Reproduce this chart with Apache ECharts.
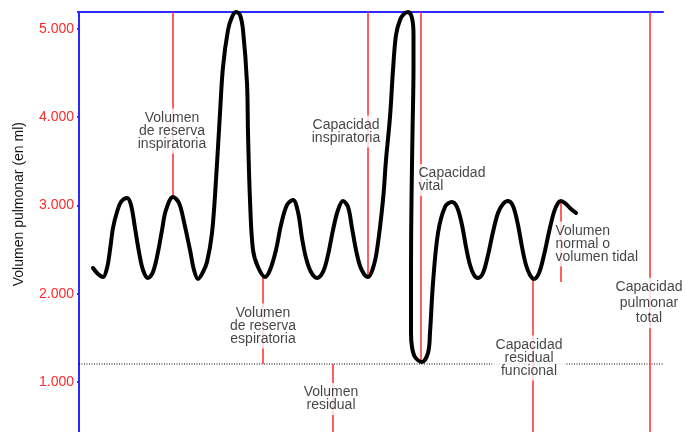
<!DOCTYPE html>
<html><head><meta charset="utf-8">
<script src="https://cdn.jsdelivr.net/npm/echarts@6/dist/echarts.min.js"></script>
<style>html,body{margin:0;padding:0;background:#fff}#c{width:685px;height:432px}</style>
</head><body><div id="c"></div>
<script>
// time (arbitrary units) / lung volume (ml)
const volumeCurve = [
  [14,2291],[19,2223],[24,2189],[28,2291],[31,2495],[34,2744],[38,2925],[42,3039],[48,3084],
  [52,3005],[56,2744],[60,2472],[64,2268],[69,2178],[74,2246],[79,2472],[83,2721],[87,2948],
  [94,3095],[100,3027],[105,2812],[111,2495],[115,2268],[119,2166],[124,2246],[128,2359],
  [133,2687],[137,3288],[141,4046],[144,4567],[149,4986],[153,5134],[157,5190],[161,5156],
  [164,4986],[168,4386],[169,3820],[171,3061],[174,2495],[179,2302],[186,2189],[191,2268],
  [197,2495],[202,2778],[208,3005],[214,3061],[219,2925],[223,2631],[227,2404],[232,2246],
  [238,2178],[244,2246],[249,2438],[254,2721],[259,2948],[264,3050],[269,2982],[273,2744],
  [277,2495],[281,2314],[285,2223],[289,2189],[294,2291],[298,2495],[304,3061],[307,3514],
  [311,4001],[314,4533],[317,4930],[321,5100],[325,5168],[329,5190],[333,5122],[334.5,4930],
  [334.5,4567],[333.5,3820],[332.5,3061],[332,2268],[332,1555],[333,1396],[336,1283],[343,1226],
  [349,1328],[351,1555],[354,2121],[359,2687],[366,2982],[373,3039],[378,2982],[383,2778],
  [387,2529],[391,2325],[395,2212],[399,2178],[404,2234],[409,2438],[414,2699],[419,2914],
  [424,3016],[429,3050],[434,2993],[439,2778],[443,2529],[447,2325],[451,2212],[455,2166],
  [460,2234],[465,2438],[470,2699],[475,2925],[479,3027],[482,3050],[487,3016],[492,2959],[497,2914]
];
const residualLevel = 1204;
const timeRange = [0, 584];
const volumeMax = 5190;
const yTickStep = 1000;
// vertical marker lines: [time, volumeFrom, volumeTo]
const markerLines = [
  [94, 5190, 3095],
  [184, 2189, 1204],
  [289, 5190, 2189],
  [342, 5190, 1226],
  [254, 1204, 0],
  [482, 3050, 2132],
  [454, 2166, 0],
  [571, 5190, 0]
];
// annotation texts and anchors [time, volume]
const noteTexts = [
  'Volumen\nde reserva\ninspiratoria',
  'Volumen\nde reserva\nespiratoria',
  'Capacidad\ninspiratoria',
  'Capacidad\nvital',
  'Volumen\nresidual',
  'Capacidad\nresidual\nfuncional',
  'Capacidad\npulmonar\ntotal',
  'Volumen\nnormal o\nvolumen tidal'
];
const noteAnchors = [
  [93,3843],[184,1634],[267,3837],[339,3288],[252,807],[450,1272],[570,1895],[476,2563]
];
const leftAlignedNotes = ['Capacidad\nvital', 'Volumen\nnormal o\nvolumen tidal'];

const FONT = "'Liberation Sans', Arial, Helvetica, sans-serif";
const RED = '#ff2a2a';
const BLUE = '#2a2aff';

function fmt(v) {
  if (v % yTickStep !== 0) return '';
  if (v === 0) return '0';
  return String(v).replace(/\B(?=(\d{3})+(?!\d))/g, '.');
}

const series = [];
series.push({
  type: 'line', data: [[timeRange[0], residualLevel], [timeRange[1], residualLevel]],
  symbol: 'none', silent: true, z: 2,
  lineStyle: { color: '#000', width: 1, type: [1, 1.5] }
});
markerLines.forEach(m => {
  series.push({
    type: 'line', data: [[m[0], m[1]], [m[0], m[2]]], symbol: 'none', silent: true, z: 3,
    lineStyle: { color: RED, width: 1.5 }
  });
});
series.push({
  type: 'line', data: volumeCurve, smooth: 0.35, symbol: 'none', clip: false, z: 5,
  lineStyle: { color: '#000', width: 4, cap: 'round', join: 'round' }
});
series.push({
  type: 'scatter', z: 10, symbolSize: 1, itemStyle: { color: 'rgba(0,0,0,0)' },
  data: noteTexts.map((t, i) => {
    const left = leftAlignedNotes.includes(t);
    const tall = t.indexOf('pulmonar') >= 0;
    return {
      name: t, value: noteAnchors[i],
      label: left ? { position: 'right', distance: 0, align: 'left', padding: [3, 2, 3, 0] }
                  : { position: 'inside', align: 'center', lineHeight: tall ? 15.5 : 13, padding: tall ? [2, 2, 2, 2] : [3, 3, 3, 3] }
    };
  }),
  label: {
    show: true, formatter: p => p.name, color: '#141414', fontSize: 14, fontFamily: FONT,
    lineHeight: 13, backgroundColor: '#fff'
  }
});

const chart = echarts.init(document.getElementById('c'), null, { renderer: 'canvas' });
chart.setOption({
  animation: false,
  backgroundColor: '#fff',
  grid: { left: 79, top: 12, width: 584, height: 458.3, containLabel: false, outerBoundsMode: 'none' },
  xAxis: {
    type: 'value', min: timeRange[0], max: timeRange[1], position: 'top',
    axisLine: { show: true, onZero: false, lineStyle: { color: BLUE, width: 2 } },
    axisTick: { show: false }, axisLabel: { show: false }, splitLine: { show: false }
  },
  yAxis: {
    type: 'value', min: 0, max: volumeMax, interval: yTickStep,
    axisLine: { show: true, onZero: false, lineStyle: { color: BLUE, width: 2 } },
    axisTick: { show: true, length: 2, lineStyle: { color: BLUE, width: 2 } },
    axisLabel: { color: RED, fontSize: 14, fontFamily: FONT, margin: 5, formatter: fmt },
    splitLine: { show: false },
    name: 'Volumen pulmonar (en ml)', nameLocation: 'middle', nameGap: 53,
    nameTextStyle: { color: '#141414', fontSize: 14, fontFamily: FONT, padding: [0, 0, 0, 74] }
  },
  series
});
</script>
</body></html>
